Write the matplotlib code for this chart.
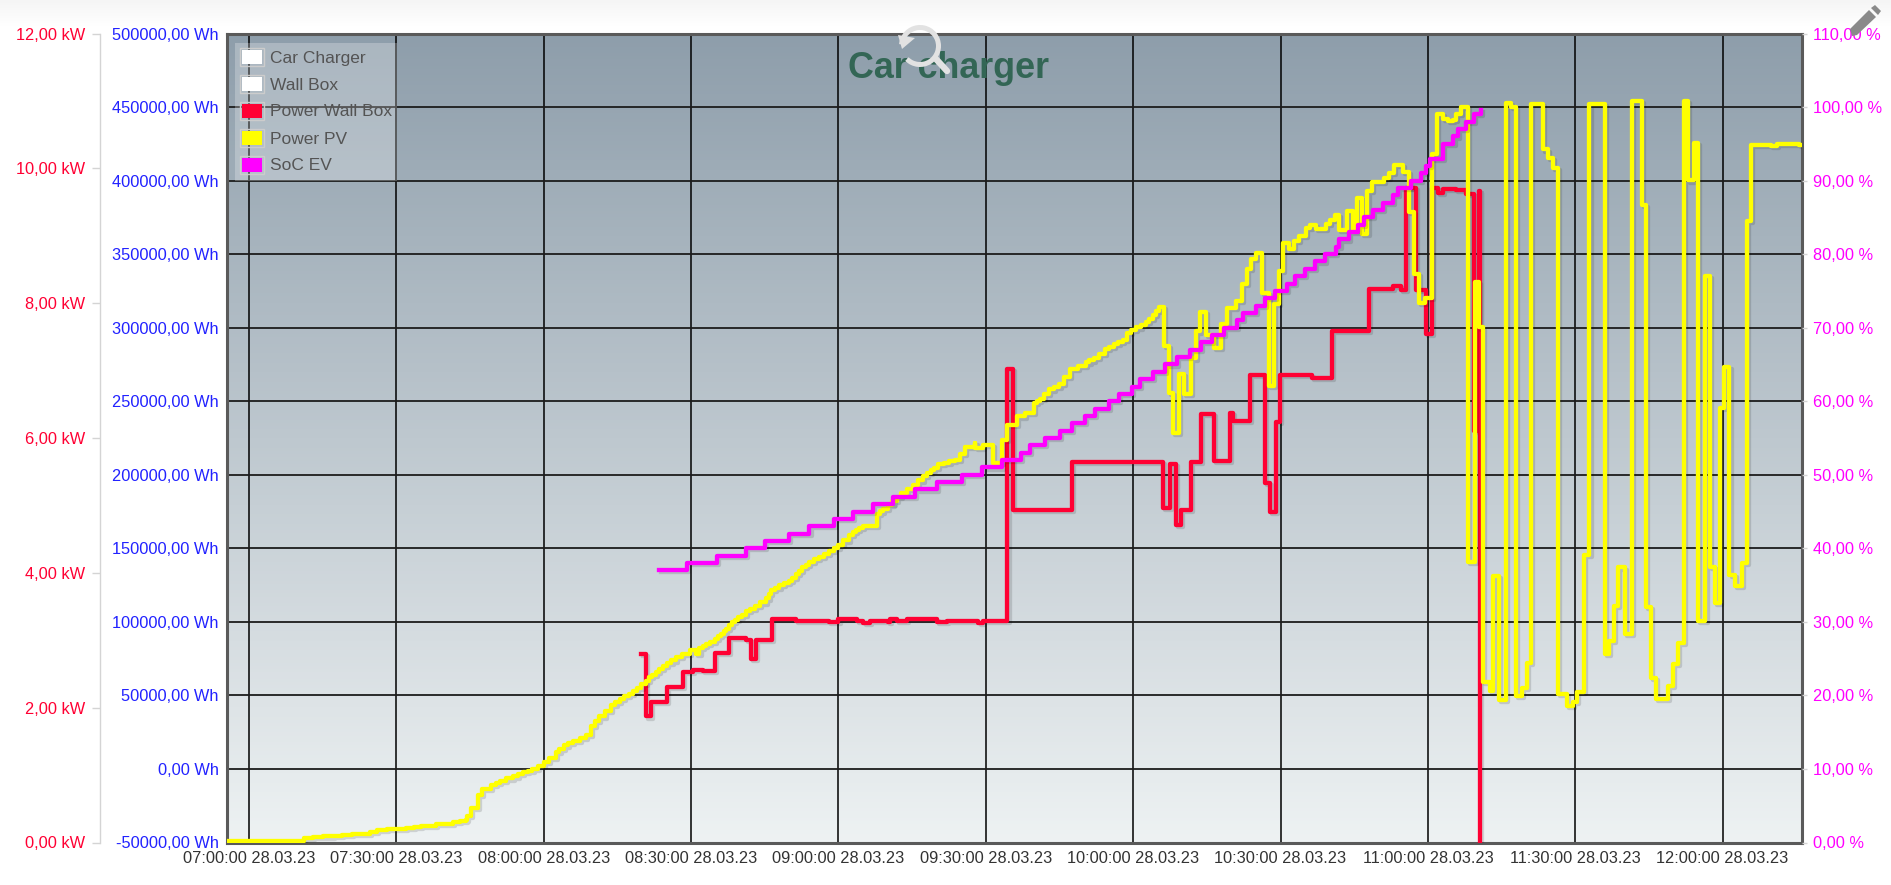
import numpy as np
import pandas as pd
import matplotlib
matplotlib.use("Agg")
import matplotlib.pyplot as plt
import matplotlib.dates as mdates
import matplotlib.patheffects as pe
from matplotlib.patches import Rectangle, Polygon, Arc

plt.rcParams["font.family"] = ["Liberation Sans", "DejaVu Sans"]

# minutes after 07:00 and kW, stepped
pv_min = [-4.3, 11.2, 13, 15, 17, 19, 21, 23.3, 24.6, 26, 28, 30, 32, 33.5, 35, 36.5, 38, 40, 41.5, 43,
          44.2, 44.4, 45.1, 46.7, 47.5, 49.3, 50.2, 51, 52.4, 53.8, 54.7, 55.7, 56.7, 57.7, 58.8, 60,
          61, 62.4, 63.2, 64.1, 65, 66, 67.3, 68.6, 69.6, 70.5, 71.3, 72.5, 73.7, 74.6, 75.5, 76.4, 77.4, 78.2, 79, 79.9,
          80.8, 81.4, 82, 82.8, 83.5, 84.2, 85, 86, 86.9, 88.2, 89.7, 91, 91.7, 92.4, 93, 93.9, 94.8, 95.4, 96, 96.6,
          97.1, 97.8, 98.4, 98.9, 99.5, 100.3, 101.1, 102, 103, 104, 105.3, 105.8, 106.3, 107.1, 108, 109, 110, 110.6, 111.3, 112,
          112.6, 113.3, 114, 115, 116, 117, 118, 119, 120, 121, 122.2, 122.9, 123.5, 124.2, 124.9, 127.8, 128.4, 129, 130, 131,
          131.9, 132.8, 134, 135.2, 136.2, 137.2, 138, 138.8, 139.5, 140.3, 141.5, 142.6, 143.7, 144.8, 145.7, 147.8, 147.9, 149.5, 151.4, 153.3,
          154.3, 156.3, 158, 159.8, 160.4, 161, 161.9, 162.8, 163.9, 165, 166, 167.2, 168.7, 170.3, 171.1, 172, 173, 174.2, 175, 176,
          177, 178, 178.8, 179.6, 180.5, 181.5, 182.6, 183.3, 184, 184.6, 185.3, 186.2, 187.3, 188.1, 189.3, 190.3,
          191.8, 192.7, 193.6, 194.8, 196.5, 197.8, 199.2, 201, 202.2, 203.2, 203.9, 205, 206.2, 207.7, 208.7, 209.7, 210.5, 211.8, 212.7, 213.7,
          215.2, 216.1, 217.2, 219.3, 220, 221.1, 221.9, 223.5, 224.8, 225.5, 226.5, 227.7, 228.6, 231, 232, 233, 234.9, 236.1, 237.1, 238.1,
          239.4, 240.8, 241.8, 243, 244, 245.1, 245.7, 246.8, 248.1, 249.6, 250.4, 251.3, 252.6, 253.3, 254.5, 255.9, 256.9, 258, 259.1, 260.1,
          260.9, 263.5, 264.5, 265.4, 266.4, 268.3, 269.6, 270.4, 271.8, 272.9, 276, 276.9, 277.9, 278.7, 280.2, 281.5, 283.6, 284.4, 285.5, 286.5,
          288.9, 289.9, 291, 292.1, 293, 294.2, 294.9, 296.5, 297.4, 298.4, 299.4, 300.3, 301.4, 302.5, 304, 304.9, 305.8, 309.9, 311, 315.6, 316.06]
pv_kw = [.02, .07, .08, .09, .10, .11, .12, .13, .15, .19, .20, .20, .22, .23, .24, .25, .27, .28, .30, .32,
         .33, .39, .51, .70, .79, .85, .88, .91, .95, .98, 1.01, 1.04, 1.06, 1.09, 1.14, 1.20,
         1.25, 1.34, 1.39, 1.44, 1.47, 1.51, 1.55, 1.59, 1.73, 1.80, 1.87, 1.95, 2.04, 2.09, 2.13, 2.17, 2.20, 2.25, 2.29, 2.35,
         2.40, 2.45, 2.49, 2.53, 2.57, 2.62, 2.66, 2.70, 2.75, 2.80, 2.85, 2.79, 2.89, 2.92, 2.95, 2.98, 3.02, 3.06, 3.10, 3.13,
         3.17, 3.22, 3.27, 3.30, 3.34, 3.38, 3.43, 3.47, 3.51, 3.56, 3.62, 3.68, 3.74, 3.78, 3.82, 3.85, 3.88, 3.93, 3.98, 4.03,
         4.09, 4.12, 4.16, 4.20, 4.24, 4.28, 4.33, 4.37, 4.41, 4.48, 4.56, 4.60, 4.63, 4.66, 4.70, 4.87, 4.91, 4.95, 5.01, 5.07,
         5.12, 5.18, 5.24, 5.31, 5.37, 5.44, 5.48, 5.52, 5.56, 5.61, 5.63, 5.66, 5.68, 5.76, 5.87, 5.93, 5.85, 5.89, 5.63, 5.97,
         6.19, 6.32, 6.37, 6.52, 6.55, 6.58, 6.65, 6.72, 6.76, 6.80, 6.90, 7.03, 7.07, 7.12, 7.15, 7.19, 7.25, 7.32, 7.35, 7.39,
         7.42, 7.46, 7.56, 7.60, 7.64, 7.68, 7.72, 7.77, 7.83, 7.89, 7.95, 7.36, 6.67, 6.08, 6.95, 6.65,
         7.18, 7.58, 7.87, 7.53, 7.34, 7.69, 7.93, 8.03, 8.28, 8.51, 8.66, 8.74, 8.15, 6.77, 7.99, 8.48, 8.89, 8.80, 8.92, 9.00,
         9.11, 9.16, 9.10, 9.17, 9.24, 9.31, 9.08, 9.37, 9.08, 9.56, 9.02, 9.67, 9.80, 9.86, 9.93, 10.05, 9.94, 9.35, 8.43, 8.00,
         8.08, 10.22, 10.80, 10.73, 10.70, 10.72, 10.80, 10.91, 4.16, 8.32, 7.64, 2.38, 2.24, 3.96, 2.12, 10.97, 10.91, 2.17, 2.29, 2.66,
         10.96, 10.28, 10.15, 10.00, 2.21, 2.02, 2.09, 2.23, 4.27, 10.96, 2.80, 2.99, 3.51, 4.08, 3.10, 11.00, 9.45, 3.49, 2.44, 2.13,
         2.32, 2.65, 2.96, 11.00, 9.82, 10.37, 3.29, 8.41, 4.09, 3.55, 6.44, 7.06, 3.97, 3.81, 4.15, 9.22, 10.35, 10.33, 10.36, 10.35, 10.35]

box_min = [79.8, 80.8, 81.8, 85.1, 88.3, 90.3, 92.5, 94.8, 97.8, 101.2, 102.2, 103.2, 106.4, 108, 111.4, 113.5, 116, 118, 120, 123.7,
           125.1, 126.5, 130, 130.4, 132, 134, 138, 140, 142, 148.5, 149.5, 154.4, 155.6, 167.5, 186.1, 187.4, 188.8, 189.8, 191.8, 193.8,
           196.5, 199.7, 200.4, 203.7, 206.8, 207.8, 209, 209.8, 216.4, 220.4, 228, 232.8, 234.5, 235.5, 237.6, 239.7, 240.9, 242, 243, 245.7,
           247.8, 249.3, 250.5, 250.6]
box_kw = [2.79, 1.87, 2.08, 2.31, 2.53, 2.56, 2.54, 2.81, 3.03, 3.01, 2.72, 3.00, 3.31, 3.32, 3.29, 3.28, 3.29, 3.27, 3.31, 3.29,
          3.26, 3.28, 3.27, 3.32, 3.29, 3.32, 3.32, 3.27, 3.29, 3.26, 3.28, 7.03, 4.93, 5.65, 4.96, 5.62, 4.71, 4.93, 5.64, 6.36,
          5.66, 6.37, 6.25, 6.94, 5.33, 4.90, 6.24, 6.94, 6.89, 7.59, 8.21, 8.25, 8.19, 9.71, 8.19, 7.55, 9.71, 9.64, 9.70, 9.68,
          9.62, 6.11, 9.67, 0.0]

soc_min = [83.4, 89.1, 95.2, 101.2, 105.1, 110, 114.1, 119, 123, 127, 131.2, 135.5, 140, 145.1, 149.2, 153.3, 157.2, 159, 162.1, 165.1,
           167.5, 170.2, 172.3, 175.1, 177.2, 179.7, 181.4, 184, 186.5, 188.9, 191.5, 193.8, 196, 198.4, 201.2, 202.4, 205, 206.9, 208.9, 211.3,
           213, 215, 217, 219, 221.2, 222, 224, 225.7, 227, 228.8, 230.8, 232.9, 233.9, 236.6, 238.6, 239.6, 240.4, 243.1, 245.2, 246.1,
           247.7, 249.3, 250.8]
soc_pct = [37, 38, 39, 40, 41, 42, 43, 44, 45, 46, 47, 48, 49, 50, 51, 52, 53, 54, 55, 56,
           57, 58, 59, 60, 61, 62, 63, 64, 65, 66, 67, 68, 69, 70, 71, 72, 73, 74, 75, 76,
           77, 78, 79, 80, 81, 82, 83, 84, 85, 86, 87, 88, 89, 90, 91, 92, 93, 95, 96, 97,
           98, 99, 99.6]

wh_ticks = [-50000, 0, 50000, 100000, 150000, 200000, 250000, 300000, 350000, 400000, 450000, 500000]
kw_ticks = [0, 2, 4, 6, 8, 10, 12]
pct_ticks = [0, 10, 20, 30, 40, 50, 60, 70, 80, 90, 100, 110]
legend_names = ["Car Charger", "Wall Box", "Power Wall Box", "Power PV", "SoC EV"]
legend_cols = ["white", "white", "#ff0033", "#ffff00", "#ff00ff"]

W, H = 1891, 885
base = pd.Timestamp("2023-03-28 07:00:00")
line_w = 3.1


def to_time(minutes):
    return base + pd.to_timedelta(minutes, unit="min")


def shadow():
    return [pe.SimpleLineShadow(offset=(1.5, -1.5), shadow_color="k", alpha=0.13), pe.Normal()]


fig = plt.figure(figsize=(W / 100, H / 100), dpi=100, facecolor="white")

# pale strip along the top of the page
bg = fig.add_axes([0, 1 - 26 / H, 1, 26 / H])
bg.imshow(np.linspace(0, 1, 50).reshape(-1, 1), aspect="auto", cmap=matplotlib.colors.LinearSegmentedColormap.from_list("s", ["#f5f5f5", "#ffffff"]))
bg.axis("off")

left, right, top, bottom = 226.5, 1801.5, 33.5, 842.5
ax = fig.add_axes([left / W, 1 - bottom / H, (right - left) / W, (bottom - top) / H])
grad = matplotlib.colors.LinearSegmentedColormap.from_list("g", ["#8e9eab", "#eef2f3"])
ax.imshow(np.linspace(0, 1, 256).reshape(-1, 1), aspect="auto", cmap=grad, extent=(0, 1, 0, 1),
          transform=ax.transAxes, zorder=0)
ax.set_xlim(to_time(-4.58), to_time(316.06))
ax.set_ylim(-50000, 500000)
ax.set_yticks(wh_ticks, [f"{v},00 Wh" for v in wh_ticks], color="#2222ff", fontsize=11.8)
ax.tick_params(axis="y", length=0, pad=5.5)
ax.xaxis.set_major_locator(mdates.MinuteLocator(byminute=[0, 30]))
ax.xaxis.set_major_formatter(mdates.DateFormatter("%H:%M:%S %d.%m.%y"))
ax.tick_params(axis="x", length=0, pad=5.8, labelsize=11.8, labelcolor="#333333")
ax.grid(True, axis="x", color="black", lw=1.1, zorder=1)
ax.grid(True, axis="y", color="#1c1c1c", lw=1.3, zorder=1)
ax.set_axisbelow(True)
for s in ax.spines.values():
    s.set_linewidth(2.2)
    s.set_color("#5a5a5a")

# power axis, set apart on the left
ax_kw = ax.twinx()
ax_kw.set_ylim(0, 12)
ax_kw.yaxis.tick_left()
ax_kw.spines["left"].set_position(("outward", 91.4))
ax_kw.spines["left"].set_visible(True)
ax_kw.spines["left"].set_color("#d4d4d4")
ax_kw.spines["left"].set_linewidth(1)
for name in ["right", "top", "bottom"]:
    ax_kw.spines[name].set_visible(False)
ax_kw.set_yticks(kw_ticks, [f"{v},00 kW" for v in kw_ticks], color="#ff0033", fontsize=11.8)
ax_kw.tick_params(axis="y", length=5.5, width=1, color="#d4d4d4", pad=5)
ax_kw.step(to_time(box_min), box_kw, where="post", color="#ff0033", lw=line_w, path_effects=shadow(), zorder=3)
ax_kw.step(to_time(pv_min), pv_kw, where="post", color="#ffff00", lw=line_w, path_effects=shadow(), zorder=4)

# state of charge
ax_soc = ax.twinx()
ax_soc.set_ylim(0, 110)
ax_soc.set_yticks(pct_ticks, [f"{v},00 %" for v in pct_ticks], color="#ff00ff", fontsize=11.8)
ax_soc.tick_params(axis="y", length=3.6, width=1, color="#d4d4d4", pad=5)
for s in ax_soc.spines.values():
    s.set_visible(False)
ax_soc.step(to_time(soc_min), soc_pct, where="post", color="#ff00ff", lw=line_w, path_effects=shadow(), zorder=5)

# legend, title and the two icons sit on a page sized overlay
over = fig.add_axes([0, 0, 1, 1], zorder=10)
over.set_xlim(0, W)
over.set_ylim(H, 0)
over.axis("off")
over.add_patch(Rectangle((235, 43), 162, 138, facecolor="white", alpha=0.25, lw=0))
for i, (name, col) in enumerate(zip(legend_names, legend_cols)):
    y = 57 + 27 * i
    over.add_patch(Rectangle((239.5, y - 9), 24, 18, facecolor="none", edgecolor="#cccccc", lw=1))
    over.add_patch(Rectangle((242, y - 7), 20, 14, facecolor=col, lw=0))
    over.text(270, y + 1, name, color="#545454", fontsize=12.5, va="center", ha="left")

over.text(948, 68, "Car charger", color="#336655", fontsize=25.8, fontweight="bold", ha="center", va="center", zorder=3)

icon = "#e2e2e2"
over.add_patch(Arc((920, 46), 37, 37, theta1=-175, theta2=135, color=icon, lw=3.6, zorder=5))
over.plot([936, 947], [59, 71], color=icon, lw=4.6, solid_capstyle="round", zorder=5)
over.add_patch(Polygon([(898, 35), (915, 38), (902, 49)], closed=True, color=icon, lw=0, zorder=5))

pen = "#8a8a8a"
over.add_patch(Polygon([(1852, 36), (1850, 29), (1869, 10), (1876, 17), (1857, 35)], closed=True, color=pen, lw=0))
over.add_patch(Polygon([(1871, 8), (1875, 5), (1881, 11), (1878, 15)], closed=True, color=pen, lw=0))

fig.savefig("out.png", dpi=100)
